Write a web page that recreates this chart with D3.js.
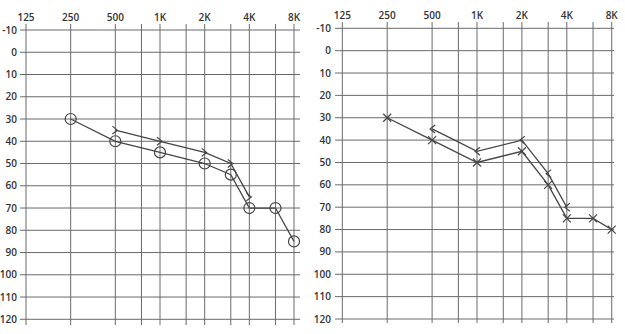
<!DOCTYPE html>
<html>
<head>
<meta charset="utf-8">
<script src="https://cdn.jsdelivr.net/npm/d3@7"></script>
<style>
  html, body { margin: 0; padding: 0; background: #fff; }
  svg { display: block; }
  text { font-family: "Open Sans", "DejaVu Sans", sans-serif; font-weight: 600; fill: #333; }
</style>
</head>
<body>
<svg id="chart" width="625" height="334"></svg>
<script>
// ---- data ----
const gridFreqs = [125, 250, 500, 750, 1000, 1500, 2000, 3000, 4000, 6000, 8000];
const freqTicks = [125, 250, 500, 1000, 2000, 4000, 8000];
const freqTickLabels = ["125", "250", "500", "1K", "2K", "4K", "8K"];
const dbTicks = [-10, 0, 10, 20, 30, 40, 50, 60, 70, 80, 90, 100, 110, 120];

const airFreqs = [250, 500, 1000, 2000, 3000, 4000, 6000, 8000];
const boneFreqs = [500, 1000, 2000, 3000, 4000];

const leftAir = [30, 40, 45, 50, 55, 70, 70, 85];
const leftBone = [35, 40, 45, 50, 65];
const rightAir = [30, 40, 50, 45, 60, 75, 75, 80];
const rightBone = [35, 45, 40, 55, 70];

// ---- layout ----
const panels = [
  { xr: [26, 294], yr: [30, 319.3], lineX0: 20, lineX1: 300, vTop: 24, vBot: 325, labelRight: 17, xLabelY: 21,
    air: leftAir, bone: leftBone, airMark: "circle", boneMark: "gt" },
  { xr: [342.3, 611.7], yr: [28.3, 319], lineX0: 335, lineX1: 614, vTop: 22, vBot: 323, labelRight: 331, xLabelY: 19,
    air: rightAir, bone: rightBone, airMark: "cross", boneMark: "lt" }
];

const svg = d3.select("#chart");
const gridColor = "#6a6a6a";
const dataColor = "#454545";

panels.forEach(p => {
  const x = d3.scaleLog().base(2).domain([125, 8000]).range(p.xr);
  const y = d3.scaleLinear().domain([-10, 120]).range(p.yr);
  const g = svg.append("g");

  // horizontal grid lines
  g.selectAll("line.h").data(dbTicks).enter().append("line")
    .attr("x1", p.lineX0).attr("x2", p.lineX1)
    .attr("y1", d => y(d)).attr("y2", d => y(d))
    .attr("stroke", gridColor).attr("stroke-width", 1);

  // vertical grid lines
  g.selectAll("line.v").data(gridFreqs).enter().append("line")
    .attr("x1", d => x(d)).attr("x2", d => x(d))
    .attr("y1", p.vTop).attr("y2", p.vBot)
    .attr("stroke", gridColor).attr("stroke-width", 1);

  // y labels
  g.selectAll("text.y").data(dbTicks).enter().append("text")
    .attr("x", p.labelRight).attr("y", d => y(d))
    .attr("dy", "0.35em").attr("text-anchor", "end")
    .attr("font-size", 10)
    .text(d => String(d));

  // x labels
  g.selectAll("text.x").data(freqTicks).enter().append("text")
    .attr("x", d => x(d)).attr("y", p.xLabelY)
    .attr("text-anchor", "middle")
    .attr("font-size", 10)
    .text((d, i) => freqTickLabels[i]);

  const line = d3.line().x(d => x(d[0])).y(d => y(d[1]));
  const airPts = airFreqs.map((f, i) => [f, p.air[i]]);
  const bonePts = boneFreqs.map((f, i) => [f, p.bone[i]]);

  g.append("path").attr("d", line(airPts)).attr("fill", "none")
    .attr("stroke", dataColor).attr("stroke-width", 1.3);
  g.append("path").attr("d", line(bonePts)).attr("fill", "none")
    .attr("stroke", dataColor).attr("stroke-width", 1.3);

  // air markers
  if (p.airMark === "circle") {
    g.selectAll("circle.a").data(airPts).enter().append("circle")
      .attr("cx", d => x(d[0])).attr("cy", d => y(d[1])).attr("r", 5.5)
      .attr("fill", "none").attr("stroke", dataColor).attr("stroke-width", 1.2);
  } else {
    const s = 4;
    g.selectAll("path.a").data(airPts).enter().append("path")
      .attr("d", d => {
        const cx = x(d[0]), cy = y(d[1]);
        return `M${cx - s},${cy - s}L${cx + s},${cy + s}M${cx - s},${cy + s}L${cx + s},${cy - s}`;
      })
      .attr("fill", "none").attr("stroke", dataColor).attr("stroke-width", 1.2);
  }

  // bone markers
  const dir = p.boneMark === "gt" ? 1 : -1;
  g.selectAll("path.b").data(bonePts).enter().append("path")
    .attr("d", d => {
      const cx = x(d[0]), cy = y(d[1]);
      return `M${cx - 3 * dir},${cy - 4}L${cx + 2 * dir},${cy}L${cx - 3 * dir},${cy + 4}`;
    })
    .attr("fill", "none").attr("stroke", dataColor).attr("stroke-width", 1.2);
});
</script>
</body>
</html>
